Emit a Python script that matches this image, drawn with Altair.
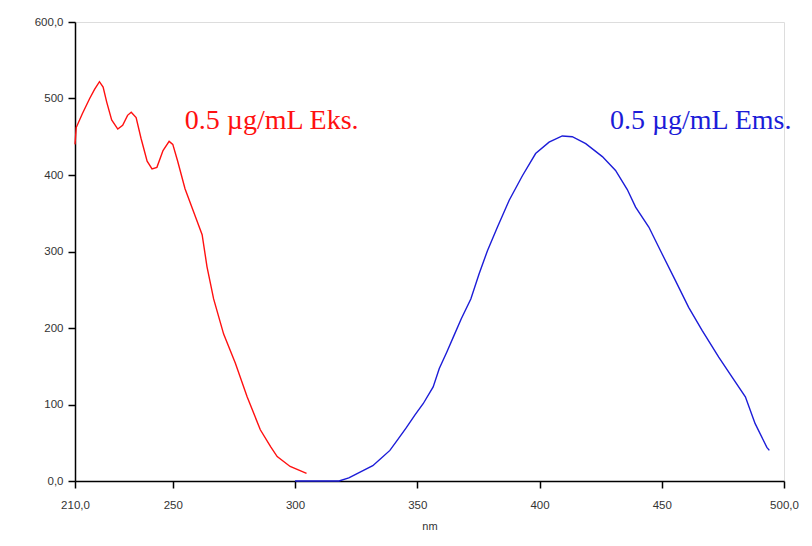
import altair as alt
import pandas as pd

# Excitation (red) spectrum
eks_nm = [210, 210.5, 213, 216, 218, 220, 221.5, 223, 225, 227.5, 229.5, 231.5, 233, 235, 237,
          239.5, 241.5, 243.5, 246, 248.5, 250, 252, 255, 258.5, 262, 264, 266.7, 270.8, 275.6,
          280.4, 285.8, 290, 292.7, 298, 304.7]
eks_val = [440, 462, 480, 500, 512, 522, 515, 495, 472, 460, 465, 478, 482, 475, 448,
           418, 408, 410, 432, 444, 440, 418, 382, 352, 322, 280, 238, 192, 154,
           110, 67, 45, 32, 19, 10]

# Emission (blue) spectrum
ems_nm = [300, 318, 322, 325, 328, 331.8, 335, 338.8, 342, 345.6, 349, 352.4, 356.5, 359, 362,
          365, 368, 371.9, 375.3, 378.7, 382.8, 387.6, 393, 398.4, 403.9, 409.3, 413.4, 418.9,
          425.7, 431.1, 435.9, 439.3, 444.7, 450.1, 455.6, 461, 466.5, 473.3, 478.7, 484.2,
          488.2, 493, 494]
ems_val = [0, 0, 4, 9, 14, 20, 29, 40, 54, 70, 86, 101, 123, 147, 168,
           190, 212, 238, 271, 301, 332, 367, 399, 428, 443, 451, 450, 441,
           424, 406, 381, 358, 332, 297, 262, 227, 197, 162, 136, 110,
           75, 44, 40]

series_names = ["Eks", "Ems"]
series_colors = ["#ff1010", "#1c1cd8"]

label_texts = ["0.5 \u00b5g/mL Eks.", "0.5 \u00b5g/mL Ems."]
label_x = [254.9, 428.8]
label_y = [460, 460]

x_ticks = [210, 250, 300, 350, 400, 450, 500]
y_ticks = [0, 100, 200, 300, 400, 500, 600]

df = pd.concat([
    pd.DataFrame({"nm": eks_nm, "val": eks_val, "s": "Eks", "o": range(len(eks_nm))}),
    pd.DataFrame({"nm": ems_nm, "val": ems_val, "s": "Ems", "o": range(len(ems_nm))}),
])
lab = pd.DataFrame({"t": label_texts, "x": label_x, "y": label_y, "s": series_names})

xscale = alt.Scale(domain=[210, 500], nice=False, zero=False)
yscale = alt.Scale(domain=[0, 600], nice=False)
cscale = alt.Scale(domain=series_names, range=series_colors)

xaxis = alt.Axis(values=x_ticks, title="nm", grid=False, domainColor="#000", tickColor="#000",
                 domainWidth=1.5, tickWidth=1.5, tickSize=7, labelPadding=11,
                 labelFont="Liberation Sans", labelFontSize=11.5, labelColor="#333",
                 titleFont="Liberation Sans", titleFontSize=11, titleFontWeight="normal",
                 titleColor="#333", titlePadding=10, labelFlush=False,
                 labelExpr="(datum.value == 210 || datum.value == 500) ? replace(format(datum.value, '.1f'), '.', ',') : datum.label")
yaxis = alt.Axis(values=y_ticks, title=None, grid=False, domainColor="#000", tickColor="#000",
                 domainWidth=1.5, tickWidth=1.5, tickSize=7, labelPadding=5,
                 labelFont="Liberation Sans", labelFontSize=11.5, labelColor="#333",
                 labelFlush=False,
                 labelExpr="(datum.value == 0 || datum.value == 600) ? replace(format(datum.value, '.1f'), '.', ',') : datum.label")

lines = alt.Chart(df).mark_line(strokeWidth=1.4).encode(
    x=alt.X("nm:Q", scale=xscale, axis=xaxis),
    y=alt.Y("val:Q", scale=yscale, axis=yaxis),
    color=alt.Color("s:N", scale=cscale, legend=None),
    detail="s:N",
    order="o:Q",
)

texts = alt.Chart(lab).mark_text(align="left", baseline="alphabetic", font="Liberation Serif",
                                 fontSize=28).encode(
    x=alt.X("x:Q", scale=xscale),
    y=alt.Y("y:Q", scale=yscale),
    text="t:N",
    color=alt.Color("s:N", scale=cscale, legend=None),
)

chart = (lines + texts).properties(
    width=709, height=459,
    padding={"left": 75, "top": 22, "right": 28, "bottom": 65},
    autosize="none",
).configure_view(stroke=None).configure(background="white")

chart.save("out.html", embed_options={"renderer": "svg", "actions": False})
